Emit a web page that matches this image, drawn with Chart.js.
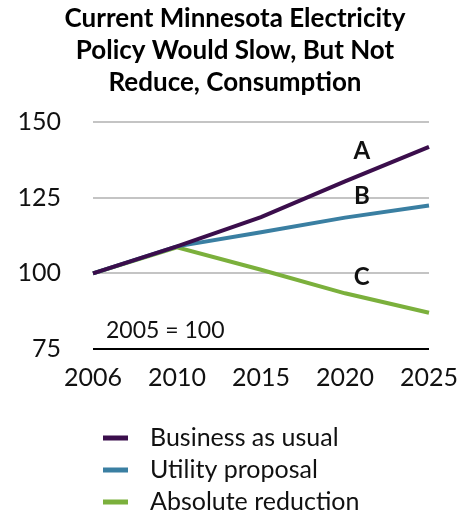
<!DOCTYPE html>
<html>
<head>
<meta charset="utf-8">
<script src="https://cdn.jsdelivr.net/npm/chart.js@4/dist/chart.umd.min.js"></script>
<style>
  html, body { margin: 0; padding: 0; background: #fff; }
  #wrap { width: 463px; height: 518px; }
</style>
</head>
<body>
<div id="wrap"><canvas id="chart" width="463" height="518"></canvas></div>
<script>
const years = ["2006", "2010", "2015", "2020", "2025"];
const businessAsUsual = [100, 108.9, 118.6, 130.4, 141.8];
const utilityProposal = [100, 108.9, 113.6, 118.4, 122.4];
const absoluteReduction = [100, 108.6, 101.2, 93.4, 87.0];
const yTicks = [75, 100, 125, 150];
const seriesNames = ["Business as usual", "Utility proposal", "Absolute reduction"];
const seriesTags = ["A", "B", "C"];
const titleLines = ["Current Minnesota Electricity", "Policy Would Slow, But Not", "Reduce, Consumption"];

const FONT = "Lato, 'Open Sans', sans-serif";
const colors = ["#3b0e4c", "#3a7fa2", "#7bb03c"];

// title drawn by hand so it can sit a little right of the canvas centre like the original
const headPlugin = {
	id: "head",
	afterDraw(chart) {
		const { ctx } = chart;
		ctx.save();
		ctx.fillStyle = "#000";
		ctx.font = "bold 26px " + FONT;
		ctx.textAlign = "center";
		ctx.textBaseline = "middle";
		titleLines.forEach((line, i) => ctx.fillText(line, 235, 19 + i * 32));
		ctx.restore();
	},
};

// A, B, C tags plus the "2005 = 100" note, placed through the scales
const notesPlugin = {
	id: "notes",
	afterDatasetsDraw(chart) {
		const { ctx, scales } = chart;
		const x = scales.x, y = scales.y;
		ctx.save();
		ctx.fillStyle = "#111";
		ctx.textAlign = "center";
		ctx.textBaseline = "middle";
		ctx.font = "bold 24px " + FONT;
		const tagY = [140.4, 125.3, 98.6];
		seriesTags.forEach((t, i) => {
			ctx.fillText(t, x.getPixelForValue(3.2), y.getPixelForValue(tagY[i]));
		});
		ctx.font = "23px " + FONT;
		ctx.textAlign = "left";
		ctx.fillText("2005 = 100", x.getPixelForValue(0.155), y.getPixelForValue(81));
		ctx.restore();
	},
};

// vertical legend under the plot
const legendPlugin = {
	id: "stackLegend",
	afterDraw(chart) {
		const { ctx } = chart;
		ctx.save();
		ctx.font = "25px " + FONT;
		ctx.textBaseline = "middle";
		ctx.textAlign = "left";
		chart.data.datasets.forEach((ds, i) => {
			const cy = 438 + i * 32;
			ctx.fillStyle = ds.borderColor;
			ctx.fillRect(103, cy - 2.5, 25, 5);
			ctx.fillStyle = "#111";
			ctx.fillText(ds.label, 150, cy);
		});
		ctx.restore();
	},
};

const ctx = document.getElementById("chart").getContext("2d");
new Chart(ctx, {
	type: "line",
	data: {
		labels: years,
		datasets: [businessAsUsual, utilityProposal, absoluteReduction].map((d, i) => ({
			label: seriesNames[i],
			data: d,
			borderColor: colors[i],
			backgroundColor: colors[i],
			borderWidth: 4,
			pointRadius: 0,
			tension: 0,
			fill: false,
		})),
	},
	options: {
		responsive: false,
		animation: false,
		layout: { padding: { left: 0, right: 34, top: 122, bottom: 111 } },
		plugins: {
			legend: { display: false },
			tooltip: { enabled: false },
			title: { display: false },
		},
		scales: {
			x: {
				offset: false,
				afterFit(scale) {
					// let the last year label hang past the plot edge
					scale.paddingLeft = 0;
					scale.paddingRight = 0;
				},
				grid: { display: false, drawTicks: false },
				border: { display: false },
				ticks: { color: "#111", font: { family: FONT, size: 25 }, padding: 14, maxRotation: 0 },
			},
			y: {
				min: 75,
				max: 150,
				afterBuildTicks(scale) {
					scale.ticks = yTicks.map((v) => ({ value: v }));
				},
				afterFit(scale) {
					scale.width = 93;
				},
				grid: {
					drawTicks: false,
					lineWidth: 2,
					color: (c) => (c.tick && c.tick.value === 75 ? "#000" : "#c4c4c4"),
				},
				border: { display: false },
				ticks: { color: "#111", font: { family: FONT, size: 25 }, padding: 32 },
			},
		},
	},
	plugins: [headPlugin, notesPlugin, legendPlugin],
});
</script>
</body>
</html>
